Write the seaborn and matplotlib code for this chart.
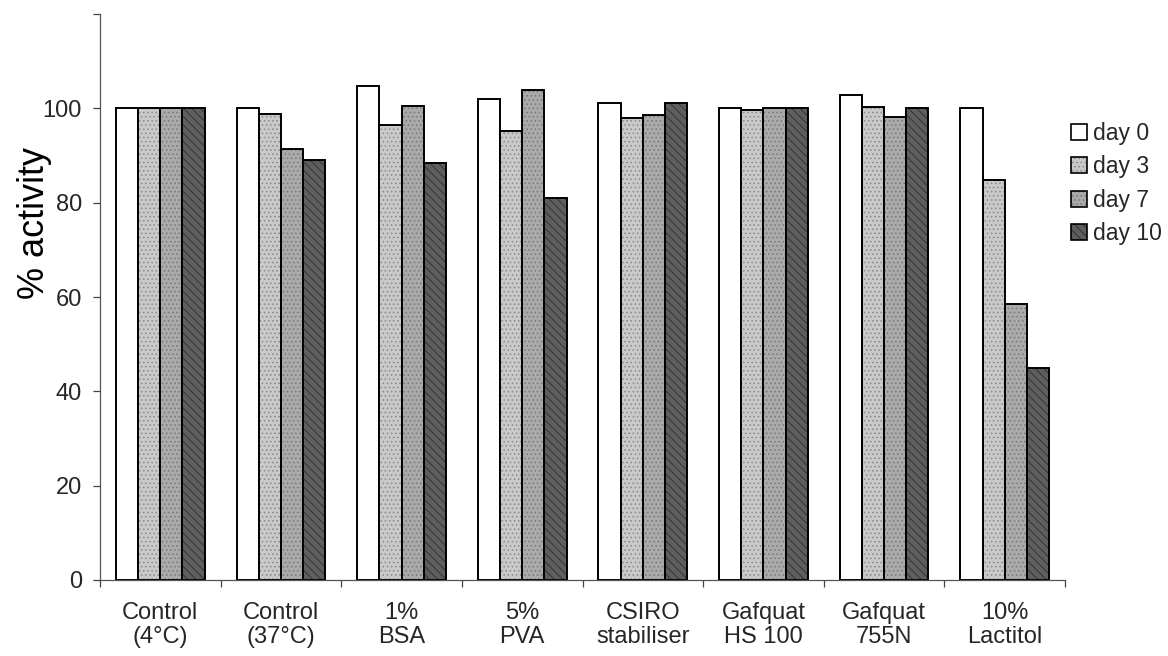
import numpy as np
import pandas as pd
import matplotlib
matplotlib.use("Agg")
import matplotlib.pyplot as plt
from matplotlib.patches import Patch
from matplotlib.colors import to_rgba
from matplotlib.ticker import FixedLocator, NullFormatter
import seaborn as sns

# Stability of activity over storage time for each formulation
categories = ["Control\n(4°C)", "Control\n(37°C)", "1%\nBSA", "5%\nPVA",
              "CSIRO\nstabiliser", "Gafquat\nHS 100", "Gafquat\n755N", "10%\nLactitol"]
days = ["day 0", "day 3", "day 7", "day 10"]
day0 = [100.0, 100.0, 104.7, 102.0, 101.2, 100.0, 102.8, 100.0]
day3 = [100.0, 98.9, 96.5, 95.2, 97.9, 99.6, 100.3, 84.7]
day7 = [100.0, 91.3, 100.4, 103.8, 98.5, 100.0, 98.2, 58.6]
day10 = [100.0, 89.0, 88.5, 81.0, 101.1, 100.0, 100.0, 45.0]
yticks = [0, 20, 40, 60, 80, 100, 120]

df = pd.DataFrame({
    "group": np.tile(categories, 4),
    "day": np.repeat(days, len(categories)),
    "activity": day0 + day3 + day7 + day10,
})

faces = ["#ffffff", "#c9c9c9", "#aaaaaa", "#5e5e5e"]
hatches = [None, "....", "....", "\\\\\\\\"]
hatch_cols = [None, "#8a8a8a", "#777777", "#2e2e2e"]
FS = 17

sns.set_theme(style="white")
plt.rcParams["font.family"] = ["Liberation Sans", "DejaVu Sans"]
plt.rcParams["hatch.linewidth"] = 0.6

fig = plt.figure(figsize=(11.68, 6.56), dpi=100)
ax = fig.add_axes([100 / 1168, 1 - 580 / 656, 965 / 1168, 566 / 656])

sns.barplot(data=df, x="group", y="activity", hue="day", order=categories,
            hue_order=days, palette=faces, width=0.735, gap=0,
            edgecolor="black", linewidth=1.4, saturation=1, ax=ax, legend=False)


def set_hatch_color(p, c):
    try:
        p.set_hatchcolor(c)
    except AttributeError:
        p._hatch_color = to_rgba(c)


for cont, h, hc in zip(ax.containers, hatches, hatch_cols):
    for bar in cont:
        if h:
            bar.set_hatch(h)
            set_hatch_color(bar, hc)

ax.set_ylim(0, 120)
ax.set_xlim(-0.5, len(categories) - 0.5)
ax.set_yticks(yticks)
ax.set_yticklabels([str(t) if t <= 100 else "" for t in yticks])

# category separators as minor ticks below the axis
ax.xaxis.set_minor_locator(FixedLocator(np.arange(-0.5, len(categories), 1.0)))
ax.xaxis.set_minor_formatter(NullFormatter())
ax.tick_params(axis="x", which="major", length=0, pad=16, labelsize=FS)
ax.tick_params(axis="x", which="minor", length=5, width=0.9, direction="out",
               color="#444444", bottom=True)
ax.tick_params(axis="y", which="major", length=5, width=0.9, direction="out",
               color="#444444", left=True, pad=8, labelsize=FS)
for lab in ax.get_xticklabels():
    lab.set_linespacing(1.1)

sns.despine(ax=ax, top=True, right=True)
for side in ("left", "bottom"):
    ax.spines[side].set_color("#555555")
    ax.spines[side].set_linewidth(0.9)

ax.set_xlabel("")
ax.set_ylabel("% activity", fontsize=26, color="black")
ax.yaxis.set_label_coords(-0.05, 0.63)

handles = []
for f, h, hc in zip(faces, hatches, hatch_cols):
    p = Patch(facecolor=f, edgecolor="black", linewidth=1.2, hatch=h)
    if h:
        set_hatch_color(p, hc)
    handles.append(p)
fig.legend(handles, days, loc="upper left", bbox_to_anchor=(1055 / 1168, 1 - 106 / 656),
           frameon=False, fontsize=16.5, handlelength=0.7, handleheight=0.7,
           handletextpad=0.25, labelspacing=0.45, borderpad=0.2)

fig.savefig("out.png", dpi=100)
